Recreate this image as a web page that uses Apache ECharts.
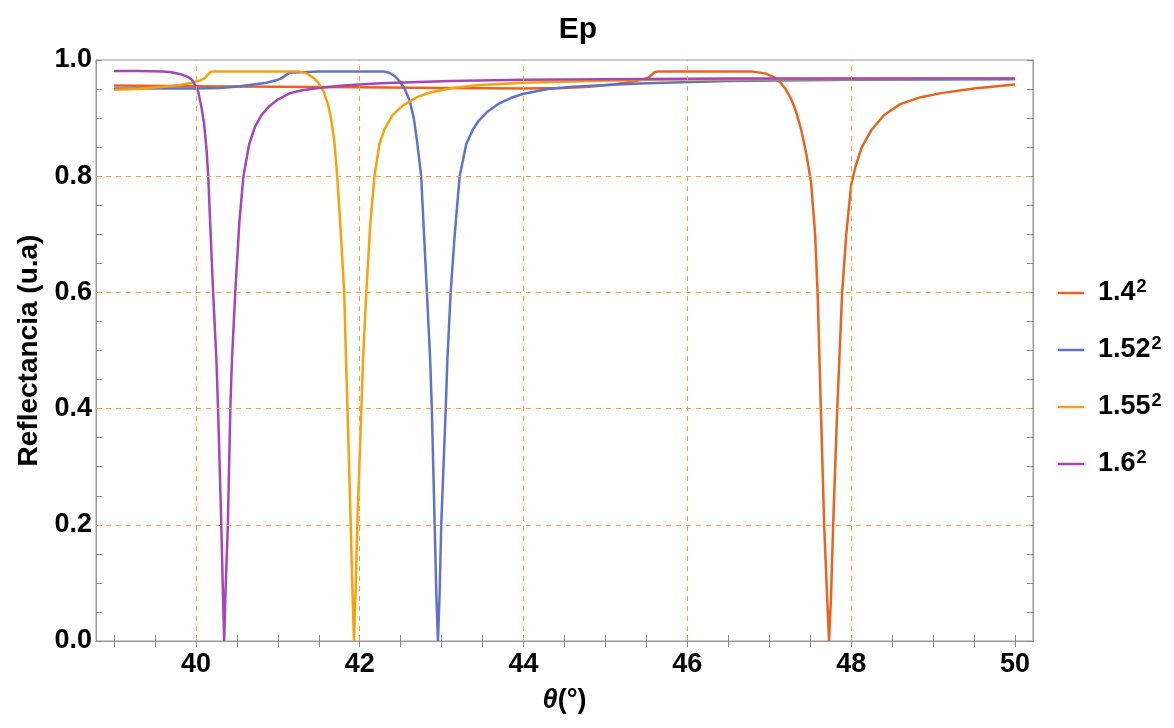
<!DOCTYPE html>
<html>
<head>
<meta charset="utf-8">
<script src="https://cdn.jsdelivr.net/npm/echarts@6/dist/echarts.min.js"></script>
<style>
  html, body { margin: 0; padding: 0; background: #fff; }
  #main { width: 1174px; height: 728px; }
</style>
</head>
<body>
<div id="main"></div>
<script>
var myChart = echarts.init(document.getElementById('main'), null, {renderer: 'canvas'});

// ticks and labels
var xTicks = [39, 39.5, 40, 40.5, 41, 41.5, 42, 42.5, 43, 43.5, 44, 44.5, 45, 45.5, 46, 46.5, 47, 47.5, 48, 48.5, 49, 49.5, 50];
var xLabels = [40, 42, 44, 46, 48, 50];
var yTicks = [0, 0.05, 0.1, 0.15, 0.2, 0.25, 0.3, 0.35, 0.4, 0.45, 0.5, 0.55, 0.6, 0.65, 0.7, 0.75, 0.8, 0.85, 0.9, 0.95, 1.0];
var yLabels = [0, 0.2, 0.4, 0.6, 0.8, 1.0];
var gridX = [40, 42, 44, 46, 48];
var gridY = [0.2, 0.4, 0.6, 0.8];

var names = ['1.4', '1.52', '1.55', '1.6'];
var colors = ['#e8641e', '#6172c9', '#f7a20c', '#a546b6'];

// curvas [theta, R]
var r140 = [[39,0.956],[40,0.955],[41,0.954],[42,0.953],[43,0.952],[44,0.951],[44.5,0.952],[44.8,0.954],[45.1,0.958],
  [45.3,0.962],[45.45,0.966],[45.53,0.970],[45.57,0.975],[45.6,0.979],[45.63,0.980],[46,0.980],[46.5,0.980],[46.8,0.980],
  [46.95,0.977],[47.05,0.971],[47.13,0.962],[47.2,0.950],[47.27,0.932],[47.33,0.91],[47.39,0.88],[47.45,0.84],[47.51,0.79],
  [47.56,0.7],[47.59,0.6],[47.63,0.4],[47.67,0.2],[47.705,0.08],[47.73,0],[47.755,0.08],[47.78,0.2],[47.83,0.4],[47.89,0.6],
  [47.94,0.7],[48.0,0.785],[48.05,0.815],[48.13,0.85],[48.25,0.88],[48.4,0.905],[48.6,0.924],[48.85,0.936],[49.1,0.943],
  [49.5,0.951],[50,0.958]];
var r152 = [[39,0.951],[40,0.951],[40.3,0.952],[40.54,0.955],[40.7,0.958],[40.86,0.961],[40.98,0.965],[41.05,0.969],[41.1,0.974],
  [41.14,0.978],[41.16,0.980],[41.5,0.980],[42.0,0.980],[42.3,0.980],[42.36,0.978],[42.43,0.972],[42.49,0.963],[42.55,0.950],
  [42.61,0.93],[42.66,0.9],[42.7,0.86],[42.75,0.8],[42.82,0.6],[42.86,0.484],[42.88,0.4],[42.915,0.2],[42.935,0.08],[42.955,0],
  [42.975,0.08],[42.995,0.2],[43.05,0.4],[43.07,0.484],[43.11,0.6],[43.16,0.7],[43.22,0.8],[43.30,0.855],[43.38,0.88],
  [43.45,0.895],[43.55,0.91],[43.7,0.925],[43.85,0.935],[44.0,0.942],[44.3,0.950],[44.6,0.954],[45.0,0.957],[45.5,0.960],
  [46.5,0.964],[48,0.966],[50,0.967]];
var r155 = [[39,0.949],[39.3,0.950],[39.6,0.954],[39.8,0.957],[39.95,0.961],[40.05,0.965],[40.1,0.968],[40.13,0.972],[40.16,0.977],
  [40.19,0.980],[40.6,0.980],[41.0,0.980],[41.27,0.980],[41.35,0.977],[41.43,0.970],[41.5,0.960],[41.56,0.945],[41.61,0.925],
  [41.65,0.9],[41.69,0.86],[41.725,0.8],[41.77,0.7],[41.81,0.6],[41.85,0.4],[41.89,0.2],[41.91,0.09],[41.93,0],[41.95,0.09],
  [41.97,0.2],[42.02,0.4],[42.04,0.484],[42.08,0.6],[42.13,0.72],[42.18,0.8],[42.24,0.855],[42.3,0.88],[42.4,0.905],
  [42.53,0.922],[42.7,0.936],[42.86,0.944],[43.14,0.952],[43.47,0.957],[44,0.961],[45.5,0.966],[47,0.967],[50,0.968]];
var r160 = [[39,0.981],[39.3,0.981],[39.6,0.980],[39.7,0.979],[39.8,0.976],[39.9,0.971],[39.95,0.966],[40.0,0.955],[40.03,0.944],
  [40.07,0.917],[40.10,0.89],[40.13,0.845],[40.15,0.8],[40.21,0.6],[40.25,0.484],[40.27,0.4],[40.31,0.2],[40.33,0.08],[40.345,0],
  [40.36,0.08],[40.39,0.2],[40.42,0.4],[40.44,0.484],[40.48,0.6],[40.53,0.72],[40.58,0.8],[40.65,0.855],[40.72,0.885],
  [40.8,0.905],[40.9,0.921],[41.0,0.932],[41.15,0.943],[41.3,0.948],[41.5,0.952],[41.8,0.956],[42.25,0.960],[43.1,0.964],
  [44,0.966],[46.5,0.968],[50,0.968]];
var curves = [r140, r152, r155, r160];

var font = "'Liberation Sans', Arial, sans-serif";
var tickStyle = {show: true, inside: true, length: 6, lineStyle: {color: '#888'}};
var lineAx = {show: true, lineStyle: {color: '#999', width: 1}};
var gridStyle = {color: '#f7a045', width: 1, type: [5, 5], opacity: 1};

var series = curves.map(function (d, i) {
    return {
        name: names[i],
        type: 'line',
        data: d,
        symbol: 'none',
        showSymbol: false,
        z: 3,
        lineStyle: {color: colors[i], width: 2.5},
        itemStyle: {color: colors[i]}
    };
});
// lineas de rejilla
series.unshift({
    name: 'grid',
    type: 'line',
    data: [],
    z: 1,
    markLine: {
        silent: true,
        symbol: 'none',
        label: {show: false},
        lineStyle: gridStyle,
        data: gridX.map(function (v) { return {xAxis: v, lineStyle: gridStyle}; })
            .concat(gridY.map(function (v) { return {yAxis: v, lineStyle: gridStyle}; }))
    }
});

option = {
    animation: false,
    backgroundColor: '#fff',
    title: {
        text: 'Ep',
        left: 573,
        textAlign: 'center',
        top: 10,
        textStyle: {fontFamily: font, fontSize: 30, fontWeight: 'bold', color: '#000'}
    },
    grid: {left: 96, right: 141, top: 60, bottom: 87, show: true, borderColor: '#999', borderWidth: 1},
    legend: {
        data: names.map(function (n, i) { return {name: n, icon: 'rect', itemStyle: {color: colors[i]}}; }),
        orient: 'vertical',
        left: 1053,
        top: 273,
        itemWidth: 26,
        itemHeight: 2.5,
        itemGap: 28.5,
        formatter: function (n) { return '{b|' + n + '}{s|2}'; },
        textStyle: {
            rich: {
                b: {fontFamily: font, fontSize: 27, fontWeight: 'bold', color: '#000', lineHeight: 30, padding: [0, 0, 0, 9]},
                s: {fontFamily: font, fontSize: 18, fontWeight: 'bold', color: '#000', verticalAlign: 'top', padding: [0, 0, 0, 1]}
            }
        }
    },
    xAxis: [{
        type: 'value',
        min: 38.78,
        max: 50.22,
        name: '{t|θ}{p|(°)}',
        nameLocation: 'middle',
        nameGap: 46,
        nameTextStyle: {
            rich: {
                t: {fontFamily: font, fontSize: 27, fontWeight: 'bold', fontStyle: 'italic', color: '#000'},
                p: {fontFamily: font, fontSize: 27, fontWeight: 'bold', color: '#000'}
            }
        },
        axisLine: lineAx,
        axisTick: Object.assign({customValues: xTicks}, tickStyle),
        axisLabel: {customValues: xLabels, fontFamily: font, fontSize: 27, fontWeight: 'bold', color: '#000', margin: 10},
        splitLine: {show: false}
    }, {
        type: 'value',
        position: 'top',
        min: 38.78,
        max: 50.22,
        axisLine: lineAx,
        axisTick: Object.assign({customValues: xTicks}, tickStyle),
        axisLabel: {show: false},
        splitLine: {show: false}
    }],
    yAxis: [{
        type: 'value',
        min: 0,
        max: 1,
        name: 'Reflectancia (u.a)',
        nameLocation: 'middle',
        nameGap: 45,
        nameTextStyle: {fontFamily: font, fontSize: 28, fontWeight: 'bold', color: '#000'},
        axisLine: lineAx,
        axisTick: Object.assign({customValues: yTicks}, tickStyle),
        axisLabel: {
            customValues: yLabels,
            fontFamily: font, fontSize: 27, fontWeight: 'bold', color: '#000', margin: 4,
            formatter: function (v) { return v.toFixed(1); }
        },
        splitLine: {show: false}
    }, {
        type: 'value',
        position: 'right',
        min: 0,
        max: 1,
        axisLine: lineAx,
        axisTick: Object.assign({customValues: yTicks}, tickStyle),
        axisLabel: {show: false},
        splitLine: {show: false}
    }],
    series: series
};

myChart.setOption(option);
</script>
</body>
</html>
